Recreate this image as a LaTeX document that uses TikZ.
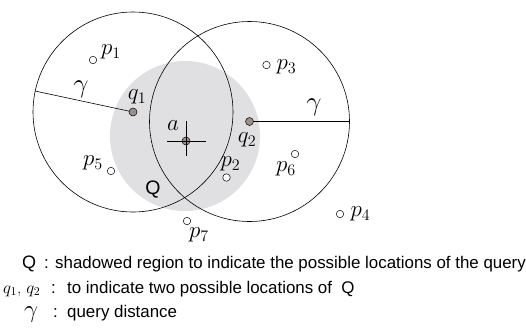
\RequirePackage{fix-cm}
\documentclass[tikz,border=0pt]{standalone}
\usepackage{fontspec}
\setsansfont{Liberation Sans}
\usetikzlibrary{positioning}
\definecolor{shadegray}{HTML}{E0E0E2}
\definecolor{dotgray}{HTML}{9B8F8C}

\begin{document}
\begin{tikzpicture}[x=1pt, y=-1pt,
		ring/.style={draw, line width=0.6pt},
		solid dot/.style={circle, draw, line width=0.5pt, fill=dotgray, inner sep=0pt, minimum size=8pt},
		open dot/.style={circle, draw, line width=0.5pt, fill=white, inner sep=0pt, minimum size=7.5pt},
		lbl/.style={inner sep=0pt, font=\fontsize{23}{23}\selectfont},
		legend/.style={anchor=base west, inner sep=0pt, font=\sffamily\fontsize{16.9}{18}\selectfont}]

		% === frame ===
		\useasboundingbox (0,0) rectangle (526,330);

		% === centres ===
		\def\rad{100pt}
		\coordinate (c1) at (133,112);
		\coordinate (c2) at (249.5,121.5);
		\coordinate (ca) at (186,141);
		\coordinate (cq) at (185,136);

		% === shadowed region and query circles ===
		\fill[shadegray] (cq) circle (75pt);
		\draw[ring] (c1) circle (\rad);
		\draw[ring] (c2) circle (\rad);

		% === radius lines ===
		\coordinate (g1) at (35,91);
		\coordinate (g2) at (349.5,121.5);
		\draw[ring] (c1) -- (g1);
		\draw[ring] (c2) -- (g2);

		% === possible locations ===
		\node[solid dot] (q1) at (c1) {};
		\node[solid dot] (q2) at (c2) {};
		\node[solid dot] (a) at (ca) {};
		\coordinate (xl) at (167,141);
		\coordinate (xr) at (206,141);
		\coordinate (xt) at (186,121);
		\coordinate (xb) at (186,155.5);
		\draw[ring] (xl) -- (xr);
		\draw[ring] (xt) -- (xb);

		% === data points ===
		\foreach \name/\pos in {p1/{93,60}, p2/{226.5,177.5}, p3/{266.5,65}, p4/{340,214},
				p5/{111,171}, p6/{295,154}, p7/{187,221}}
			\node[open dot] (\name) at (\pos) {};

		% === labels ===
		\node[lbl] (p1l) at (111,52) {$p_1$};
		\node[lbl] (p2l) at (230.5,164) {$p_2$};
		\node[lbl] (p3l) at (286.5,67) {$p_3$};
		\node[lbl] (p4l) at (360.5,214) {$p_4$};
		\node[lbl] (p5l) at (93,163) {$p_5$};
		\node[lbl] (p6l) at (286,169) {$p_6$};
		\node[lbl] (p7l) at (199,235) {$p_7$};
		\node[lbl] (q1l) at (137,97) {$q_1$};
		\node[lbl] (q2l) at (247,140) {$q_2$};
		\node[lbl] (al) at (173,126) {$a$};
		\node[lbl, font=\fontsize{27}{27}\selectfont] (gl1) at (81,89) {$\gamma$};
		\node[lbl, font=\fontsize{27}{27}\selectfont] (gl2) at (314,107) {$\gamma$};
		\node[inner sep=0pt, font=\sffamily\fontsize{19.5}{19.5}\selectfont] (Ql) at (153,190) {Q};

		% === legend ===
		\node[legend, font=\sffamily\fontsize{18}{18}\selectfont] (lgQ) at (22,268) {Q};
		\node[legend] (lgQc) at (44,268) {:};
		\node[legend] (lgQt) at (55,268) {shadowed region to indicate the possible locations of the query};
		\node[legend, font=\fontsize{17}{17}\selectfont] (lgq) at (3,293) {$q_1$, $q_2$};
		\node[legend] (lgqc) at (51,293) {:};
		\node[legend] (lgqt) at (67,293) {to indicate two possible locations of\ \ Q};
		\node[legend, font=\fontsize{25}{25}\selectfont] (lgg) at (24,317) {$\gamma$};
		\node[legend] (lggc) at (53,317) {:};
		\node[legend] (lggt) at (67,317) {query distance};
	\end{tikzpicture}
\end{document}
